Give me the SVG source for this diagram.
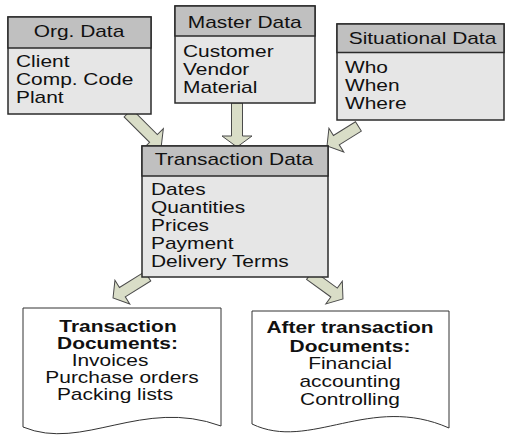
<svg xmlns="http://www.w3.org/2000/svg" width="506" height="441" viewBox="0 0 506 441">
<style>
  .hdr{fill:#c0c0c0;stroke:#2b2b2b;stroke-width:1.5}
  .body{fill:#e6e6e6;stroke:#2b2b2b;stroke-width:1.5}
  .arr{fill:#d9ddc7;stroke:#4a4a4a;stroke-width:1;stroke-linejoin:miter}
  .doc{fill:#ffffff;stroke:#333333;stroke-width:1}
  text{font-family:"Liberation Sans",Arial,sans-serif;font-size:17px;fill:#111111}
  .c{text-anchor:middle}
  .b{font-weight:bold}
</style>
<rect width="506" height="441" fill="#ffffff"/>
<g id="connectors">
  <polygon class="arr" transform="translate(128,113) rotate(45)" points="0,-5.5 36,-5.5 36,-14 47,0 36,14 36,5.5 0,5.5"/>
  <polygon class="arr" transform="translate(237,103) rotate(90)" points="0,-5.5 33,-5.5 33,-15 44,0 33,15 33,5.5 0,5.5"/>
  <polygon class="arr" transform="translate(358.4,126.4) rotate(148)" points="0,-5.5 26,-5.5 26,-14 37,0 26,14 26,5.5 0,5.5"/>
  <polygon class="arr" transform="translate(147.8,276.3) rotate(148)" points="0,-5.5 30,-5.5 30,-14 41,0 30,14 30,5.5 0,5.5"/>
  <polygon class="arr" transform="translate(309.8,274.9) rotate(36)" points="0,-5.5 30,-5.5 30,-14 41,0 30,14 30,5.5 0,5.5"/>
</g>
<g id="org-data">
  <rect class="body" x="8" y="17" width="143" height="97"/>
  <rect class="hdr" x="8" y="17" width="143" height="31"/>
  <text class="c" transform="matrix(1.23 0 0 1 79 37)">Org. Data</text>
  <text transform="matrix(1.23 0 0 1 16 66.5)"><tspan x="0" y="0">Client</tspan><tspan x="0" y="18.3">Comp. Code</tspan><tspan x="0" y="36.6">Plant</tspan></text>
</g>
<g id="master-data">
  <rect class="body" x="175" y="6" width="140" height="97"/>
  <rect class="hdr" x="175" y="6" width="140" height="30"/>
  <text class="c" transform="matrix(1.23 0 0 1 244.7 28.3)">Master Data</text>
  <text transform="matrix(1.23 0 0 1 183 56.7)"><tspan x="0" y="0">Customer</tspan><tspan x="0" y="18.3">Vendor</tspan><tspan x="0" y="36.6">Material</tspan></text>
</g>
<g id="situational-data">
  <rect class="body" x="337" y="24" width="167" height="96"/>
  <rect class="hdr" x="337" y="24" width="167" height="28.5"/>
  <text class="c" transform="matrix(1.23 0 0 1 422.5 44)">Situational Data</text>
  <text transform="matrix(1.23 0 0 1 345 73.3)"><tspan x="0" y="0">Who</tspan><tspan x="0" y="18">When</tspan><tspan x="0" y="36">Where</tspan></text>
</g>
<g id="transaction-data">
  <rect class="body" x="142" y="146" width="186" height="131"/>
  <rect class="hdr" x="142" y="146" width="186" height="30"/>
  <text class="c" transform="matrix(1.23 0 0 1 234 165)">Transaction Data</text>
  <text transform="matrix(1.23 0 0 1 151 195)"><tspan x="0" y="0">Dates</tspan><tspan x="0" y="17.9">Quantities</tspan><tspan x="0" y="35.8">Prices</tspan><tspan x="0" y="53.7">Payment</tspan><tspan x="0" y="71.6">Delivery Terms</tspan></text>
</g>
<g id="transaction-documents">
  <path class="doc" d="M23,308 H221 V426 C142,397 83,452 23,427 Z"/>
  <text class="c b" transform="matrix(1.23 0 0 1 118 331.5)">Transaction</text>
  <text class="c b" transform="matrix(1.23 0 0 1 117.5 348.6)">Documents:</text>
  <text class="c" transform="matrix(1.23 0 0 1 110 365.7)">Invoices</text>
  <text class="c" transform="matrix(1.23 0 0 1 122 382.8)">Purchase orders</text>
  <text class="c" transform="matrix(1.23 0 0 1 115 400)">Packing lists</text>
</g>
<g id="after-transaction-documents">
  <path class="doc" d="M252,311 H449 V428 C370,393 310,452 252,424 Z"/>
  <text class="c b" transform="matrix(1.23 0 0 1 350 333.3)">After transaction</text>
  <text class="c b" transform="matrix(1.23 0 0 1 350 351.5)">Documents:</text>
  <text class="c" transform="matrix(1.23 0 0 1 350 369.2)">Financial</text>
  <text class="c" transform="matrix(1.23 0 0 1 350 387.2)">accounting</text>
  <text class="c" transform="matrix(1.23 0 0 1 350 405)">Controlling</text>
</g>
</svg>
